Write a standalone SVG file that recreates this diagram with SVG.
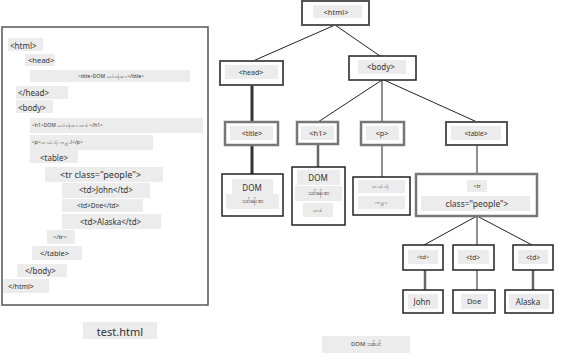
<svg xmlns="http://www.w3.org/2000/svg" width="561" height="358" viewBox="0 0 561 358">
<style>
text{font-family:"Noto Sans","Open Sans","DejaVu Sans",sans-serif;fill:#333;text-anchor:middle;dominant-baseline:central}
.l{text-anchor:start}
.hl{fill:#ececec}
.box{fill:#fff;stroke:#555;stroke-width:2}
.bk{fill:#fff;stroke:#222;stroke-width:1.5}
.gr{fill:#fff;stroke:#777;stroke-width:2.5}
.c{stroke:#222;stroke-width:1;fill:none}
.cg{stroke:#666;stroke-width:2.5;fill:none}
</style>
<rect width="561" height="358" fill="#fff"/>
<g id="source">
<rect x="2" y="27" width="206" height="278" fill="#fff" stroke="#555" stroke-width="1.5"/>
<rect class="hl" x="8" y="38" width="35" height="13"/><text class="l" x="10" y="45" font-size="8">&lt;html&gt;</text>
<rect class="hl" x="25" y="54" width="30" height="12"/><text class="l" x="28" y="60" font-size="7.5">&lt;head&gt;</text>
<rect class="hl" x="30" y="70" width="160" height="12"/><text x="111" y="76" font-size="5">&lt;title&gt;DOM သင်ခန်းစာ&lt;/title&gt;</text>
<rect class="hl" x="16" y="86" width="52" height="13"/><text class="l" x="18" y="92" font-size="8">&lt;/head&gt;</text>
<rect class="hl" x="16" y="100" width="37" height="13"/><text class="l" x="18" y="107" font-size="8">&lt;body&gt;</text>
<rect class="hl" x="30" y="118" width="173" height="15"/><text class="l" x="32" y="125" font-size="5">&lt;h1&gt;DOM သင်ခန်းစာ တစ်&lt;/h1&gt;</text>
<rect class="hl" x="30" y="135" width="123" height="15"/><text class="l" x="32" y="142" font-size="5">&lt;p&gt;ဟယ်လိုကမ္ဘာ!&lt;/p&gt;</text>
<rect class="hl" x="30" y="150" width="48" height="13"/><text class="l" x="40" y="157" font-size="8">&lt;table&gt;</text>
<rect class="hl" x="45" y="167" width="118" height="15"/><text class="l" x="60" y="174" font-size="9">&lt;tr class="people"&gt;</text>
<rect class="hl" x="62" y="183" width="88" height="15"/><text class="l" x="79" y="189" font-size="8">&lt;td&gt;John&lt;/td&gt;</text>
<rect class="hl" x="62" y="199" width="81" height="13"/><text class="l" x="77" y="205" font-size="6.5">&lt;td&gt;Doe&lt;/td&gt;</text>
<rect class="hl" x="62" y="214" width="99" height="15"/><text class="l" x="80" y="221" font-size="8">&lt;td&gt;Alaska&lt;/td&gt;</text>
<rect class="hl" x="47" y="230" width="28" height="14"/><text class="l" x="53" y="237" font-size="6">&lt;/tr&gt;</text>
<rect class="hl" x="32" y="246" width="50" height="14"/><text class="l" x="40" y="253" font-size="7.5">&lt;/table&gt;</text>
<rect class="hl" x="17" y="264" width="50" height="13"/><text class="l" x="25" y="270" font-size="8">&lt;/body&gt;</text>
<rect class="hl" x="3" y="279" width="46" height="14"/><text class="l" x="8" y="286" font-size="7">&lt;/html&gt;</text>
<rect class="hl" x="83" y="322" width="74" height="17"/><text x="120" y="331" font-size="11" fill="#444">test.html</text>
</g>
<g id="connectors">
<line class="c" x1="335" y1="25" x2="253" y2="61"/>
<line class="c" x1="335" y1="25" x2="380" y2="56"/>
<line stroke="#333" stroke-width="3" x1="252" y1="85" x2="252" y2="122"/>
<line stroke="#333" stroke-width="3" x1="252" y1="145" x2="252" y2="175"/>
<line class="c" x1="382" y1="80" x2="318" y2="122"/>
<line class="c" x1="382" y1="80" x2="382" y2="122"/>
<line class="c" x1="384" y1="80" x2="477" y2="122"/>
<line class="cg" x1="318" y1="144" x2="318" y2="167"/>
<line class="c" x1="382" y1="145" x2="382" y2="177"/>
<line class="c" x1="477" y1="145" x2="477" y2="175"/>
<line class="c" x1="477" y1="216" x2="424" y2="245"/>
<line class="c" x1="477" y1="216" x2="477" y2="245"/>
<line class="c" x1="477" y1="216" x2="532" y2="245"/>
<line class="cg" x1="425" y1="270" x2="425" y2="290"/>
<line class="c" x1="477" y1="270" x2="477" y2="290"/>
<line class="cg" x1="533" y1="270" x2="533" y2="290"/>
</g>
<g id="n-html"><rect class="box" x="302" y="1" width="67" height="24"/><rect class="hl" x="313" y="5" width="49" height="13"/><text x="336" y="12" font-size="7.5">&lt;html&gt;</text></g>
<g id="n-head"><rect class="box" x="220" y="61" width="63" height="24" stroke-width="2.5"/><rect class="hl" x="225" y="65" width="53" height="14"/><text x="251" y="72" font-size="7">&lt;head&gt;</text></g>
<g id="n-body"><rect class="bk" x="349" y="56" width="67" height="24"/><rect class="hl" x="358" y="60" width="48" height="14"/><text x="381" y="66" font-size="8">&lt;body&gt;</text></g>
<g id="n-title"><rect class="gr" x="225" y="122" width="53" height="23"/><rect class="hl" x="230" y="126" width="43" height="14"/><text x="252" y="133" font-size="7">&lt;title&gt;</text></g>
<g id="n-title-text"><rect class="bk" x="222" y="174" width="61" height="42" stroke="#444"/><rect class="hl" x="232" y="179" width="41" height="15"/><text x="252" y="187" font-size="8" fill="#555">DOM</text><rect class="hl" x="226" y="194" width="53" height="15"/><text x="252" y="201" font-size="6">သင်ခန်းစာ</text></g>
<g id="n-h1"><rect class="gr" x="297" y="122" width="41" height="22"/><rect class="hl" x="301" y="126" width="33" height="14"/><text x="318" y="133" font-size="7.5" fill="#666">&lt;h1&gt;</text></g>
<g id="n-h1-text"><rect class="bk" x="292" y="167" width="53" height="58"/><rect class="hl" x="297" y="170" width="43" height="15"/><text x="318" y="177" font-size="8" fill="#555">DOM</text><rect class="hl" x="295" y="186" width="47" height="15"/><text x="318" y="193" font-size="6">သင်ခန်းစာ</text><rect class="hl" x="303" y="203" width="30" height="14"/><text x="318" y="210" font-size="5">တစ်</text></g>
<g id="n-p"><rect class="gr" x="361" y="122" width="43" height="23"/><rect class="hl" x="366" y="126" width="33" height="14"/><text x="382" y="133" font-size="7.5" fill="#555">&lt;p&gt;</text></g>
<g id="n-p-text"><rect class="bk" x="353" y="177" width="57" height="38" stroke="#444"/><rect class="hl" x="358" y="180" width="47" height="13"/><text x="381" y="186" font-size="5">ဟယ်လို</text><rect class="hl" x="358" y="196" width="47" height="13"/><text x="381" y="202" font-size="5">ကမ္ဘာ</text></g>
<g id="n-table"><rect class="box" x="446" y="122" width="61" height="23" stroke="#444"/><rect class="hl" x="451" y="126" width="50" height="14"/><text x="476" y="133" font-size="6.5" fill="#555">&lt;table&gt;</text></g>
<g id="n-tr"><rect class="gr" x="416" y="174" width="121" height="42"/><rect class="hl" x="467" y="180" width="20" height="12"/><text x="477" y="186" font-size="5.5" fill="#777">&lt;tr</text><rect class="hl" x="421" y="196" width="109" height="15"/><text x="477" y="203" font-size="8.5" fill="#222">class="people"&gt;</text></g>
<g id="n-td1"><rect class="bk" x="403" y="245" width="40" height="25" stroke="#444"/><rect class="hl" x="408" y="250" width="30" height="14"/><text x="423" y="257" font-size="6" fill="#666">&lt;td&gt;</text></g>
<g id="n-td2"><rect class="bk" x="453" y="245" width="41" height="25" stroke="#444"/><rect class="hl" x="458" y="250" width="31" height="14"/><text x="473" y="257" font-size="6.5">&lt;td&gt;</text></g>
<g id="n-td3"><rect class="bk" x="513" y="245" width="40" height="25" stroke="#444"/><rect class="hl" x="518" y="250" width="30" height="14"/><text x="533" y="257" font-size="6.5">&lt;td&gt;</text></g>
<g id="n-john"><rect class="bk" x="403" y="290" width="40" height="23"/><rect class="hl" x="408" y="294" width="30" height="15"/><text x="422" y="301" font-size="8">John</text></g>
<g id="n-doe"><rect class="bk" x="453" y="290" width="42" height="23"/><rect class="hl" x="461" y="294" width="27" height="15"/><text x="474" y="301" font-size="7.5" fill="#444">Doe</text></g>
<g id="n-alaska"><rect class="bk" x="505" y="290" width="48" height="23"/><rect class="hl" x="509" y="294" width="40" height="15"/><text x="528" y="301" font-size="8" fill="#444">Alaska</text></g>
<g id="caption"><rect class="hl" x="322" y="336" width="88" height="17"/><text x="366" y="344" font-size="6" fill="#222">DOM သစ်ပင်</text></g>
</svg>
